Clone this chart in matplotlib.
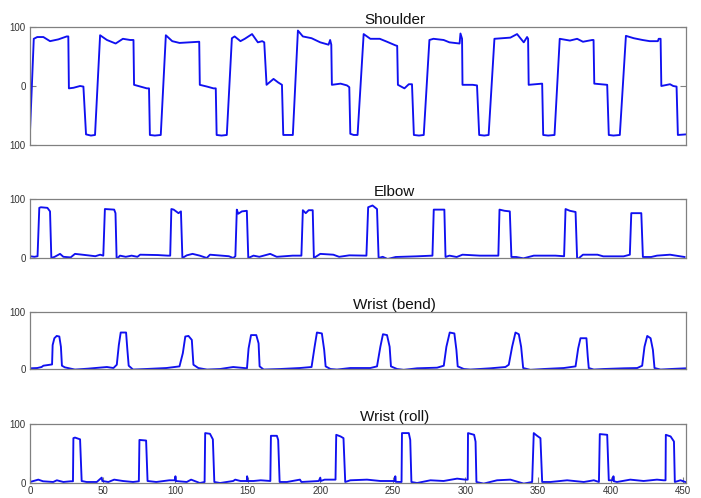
import matplotlib
matplotlib.use("Agg")
import matplotlib.pyplot as plt
import numpy as np

plt.rcParams['font.family'] = ['Liberation Sans', 'DejaVu Sans']

titles = ["Shoulder", "Elbow", "Wrist (bend)", "Wrist (roll)"]

shoulder = [(0,-77),(2.6,80),(5,83),(9.2,83),(13.8,76),(19.5,79),(25.3,84),(26.4,84),(26.8,-4),(30,-3),(34.5,0),(36.8,-1),(38.6,-82),(42,-84),(44.8,-83),
            (48.3,86),(53,78),(59,72),(64,80),(69,78),(71.3,78),(71.7,2),(76,-1),(80.5,-4),(82,-4),(82.6,-83),(86,-84),(90.1,-83),
            (93.6,86),(98,76),(103,73),(110,74),(116,75),(116.6,75),(117,2),(122,-1),(126.4,-4),(128,-4),(128.6,-83),(132,-84),(135.6,-83),
            (139.1,81),(141,84),(145,76),(148,80),(153,88),(157,74),(160,76),(161.4,74),(163,2),(167.8,12),(171,6),(173.6,2),(174.5,-83),(178,-83),(181.1,-83),
            (184.6,94),(188,84),(194,81),(200,74),(205.7,70),(206.8,78),(207.6,70),(208,2),(214,4),(218.4,1),(220,-2),(220.7,-81),(223,-83),(225.7,-83),
            (229.9,88),(234.5,80),(241,80),(246,75),(251.7,69),(253,68),(253.5,2),(258,-4),(261,3),(263.2,3),(264.5,-83),(268,-84),(271.3,-83),
            (275.2,78),(278,80),(285,78),(289,74),(296,72),(296.6,89),(297.7,80),(298,2),(305,2),(308,1),(309.5,-83),(313,-84),(316,-83),
            (320,80),(326,81),(331,82),(335.6,88),(340.2,74),(342.5,83),(343.2,80),(343.6,2),(352.9,4),(353.6,-83),(357,-84),(361.4,-83),
            (365,80),(372,77),(377,80),(381,75),(387.4,78),(388.3,78),(388.8,4),(397.7,2),(398.8,-83),(402,-84),(406.4,-83),
            (410.6,85),(416,81),(422,78),(427,76),(432.6,76),(433.2,80),(434.5,80),(435,0),(441,3),(443.2,0),(445.5,-1),(446.4,-83),(452,-82)]

elbow = [(0,3),(3,2),(5.2,3),(6.4,85),(7.5,86),(12,85),(13.8,79),(14.7,0),(17,2),(20.7,7),(23,2),(28,1),(31,7),(40,4.5),(45,3),(48.3,5.6),(50.5,4),
         (51.6,83),(58,82),(58.9,76),(59.7,-2),(62,4),(66,2),(70,4),(74,2),(75.9,5.6),(88,5),(95,4),(96.6,4),
         (97.4,83),(99,82),(102.3,76),(104,79),(105,0),(108,4.5),(112,7),(117,4),(121.8,0),(124,5.6),(137,3),(140,0),(141.5,3),
         (142.5,82),(143.5,75),(146,79),(149.4,80),(150.4,0),(154,4),(158,2),(165.5,7),(170,2),(181,4),(187,4),
         (188,81),(190,76),(192,81),(194.8,81),(195.6,0),(200,7),(209,5.6),(213,2),(220,4.5),(231.8,4),
         (233,86),(236,89),(239.1,83),(240.2,0),(243,2),(246.4,-1.7),(252,1.7),(266,2.8),(277.3,4),
         (278.2,82),(285.5,82),(286.3,1.7),(289,4),(294,1.7),(298,5.6),(310,4),(322.7,4),
         (323.5,82),(327,80),(330.6,79),(331.7,1.7),(335,1.7),(340,-0.6),(347.1,4),(362,4),(368,3),
         (369,83),(372,80),(375.9,78),(377,-2.8),(381,5.6),(391,5.6),(395,2.8),(409,2.8),(413.3,5.6),
         (414.3,76),(421.2,76),(422.3,1.7),(428,1.7),(432,4),(441,5.6),(451,1.7)]

wrist_bend = [(0,1.2),(5,1.7),(8,3.5),(9.2,5.8),(13.8,7.5),(15.2,8),(15.6,42),(16.8,54),(18.4,58),(20.2,57),(21.3,39),(22,5.8),(24,2.9),(31,-1),(40,0.6),(53,3.5),(57.5,1.7),
              (59.8,7.5),(61.2,42),(62.5,64),(66.2,64),(67.1,33.5),(68,5.8),(71,-1),(80,0),(94,1.7),(103,4.6),
              (105.3,27.7),(107,57),(109.2,58),(111.5,51),(112.6,7.5),(116,1.7),(122,-1),(131,0),(140,3.5),(149.5,1.2),
              (150.6,36),(152.3,59.5),(155.9,59.5),(157.5,45),(158.2,4.6),(161,-1),(172.5,0),(186,1.7),(194,3.5),
              (196.1,39),(197.7,64),(201.1,62.4),(202.7,33.5),(203.7,4.6),(207,0),(211.5,-1),(220.7,1.7),(234.5,1.7),(239.1,4.6),
              (241.4,39),(243.2,61),(246,59.5),(247.8,39),(248.7,4.6),(252.9,0),(257.5,-1.5),(266.7,1.2),(280.5,2.3),(285.1,5.8),
              (286.9,39),(289.2,64),(292.4,62.4),(293.8,33.5),(294.7,4.6),(298.9,0),(303.4,-1),(317.2,1.2),(327.6,3.5),(329.9,7.5),
              (332.2,39),(334.5,64),(336.8,61),(338.4,39),(339.8,1.7),(344.8,-1.5),(354,0),(367.8,1.7),(375.9,4.6),
              (377.7,36),(379.3,54),(383.4,54),(384.3,22),(385,1.7),(388.5,-1),(395.4,0),(409.2,1.2),(418.4,1.7),(421.8,5.8),
              (423.4,39),(425.3,58),(427.6,54),(429.2,33.5),(430.3,1.7),(434.5,-1),(441.4,0),(451.7,1.2)]

wrist_roll = [(0,1.7),(5.7,5.7),(9,2.9),(16,1.7),(18.5,4.6),(23,1.7),(28,2.9),(29.6,2.9),(29.9,76),(31,77),(34.5,74),(35.6,3.4),(39,1.7),(46,1.7),(49.4,9.1),(49.8,3.4),(54,1.7),(58,5.7),(64,3.4),(71,1.7),(75,2.9),
              (75.4,73),(80,72),(81,3.4),(87,1.7),(96,4.6),(100,4.6),(100.2,11.4),(100.5,3.4),(108,1.7),(111,5.7),(117,0),(120.3,1.7),
              (120.7,84.6),(124,83.4),(126,74),(127,1.7),(131,0),(140,3.4),(141.4,5.7),(145,3.4),(149.4,3.4),(149.6,11.4),(149.9,3.4),(154,3.4),(159,4.6),(165.6,3.4),
              (166,80),(170.1,80),(171,73),(172,1.7),(177,1.7),(186,5.7),(187,1.7),(199,3.4),(200,9.1),(200.4,3.4),(203,5.7),(210.5,5.7),
              (211,81.7),(214,78.9),(216,76),(217.2,1.7),(220.7,4.6),(232.2,5.7),(241.4,3.4),(251.5,3.4),(251.7,11.4),(252,2),(256,1.7),
              (256.3,84.6),(261,84.6),(262,73),(262.8,1.7),(266.7,0),(275.9,4.6),(285,3.4),(294.3,7.4),(300,5.7),(301.6,5.7),
              (301.8,84.6),(306,81.7),(307,70),(307.6,1.7),(312.6,-1),(321.8,4.6),(331,5.7),(340.2,-1),(346,1.7),
              (347.1,84.6),(349.4,80),(351.7,76),(352.9,1.7),(358.6,1.7),(370.1,4.6),(381.6,1.7),(388.5,4.6),(392,1.7),
              (392.6,82.9),(397.7,81.7),(398.8,4.6),(401.8,4.6),(402,11.4),(402.3,3),(404.4,1.7),(413.6,5.7),(422.8,3.4),(432,5.7),(436.6,4.6),(437.9,4.6),
              (438.1,81.7),(441.4,78.9),(443.7,70.3),(444.3,1.7),(448.2,4.6),(451.6,1.7)]

series = [shoulder, elbow, wrist_bend, wrist_roll]
ylims = [(-100, 100), (0, 100), (0, 100), (0, 100)]
yticks = [[-100, 0, 100], [0, 100], [0, 100], [0, 100]]
yticklabels = [["100", "0", "100"], ["0", "100"], ["0", "100"], ["0", "100"]]
xticks = [0, 50, 100, 150, 200, 250, 300, 350, 400, 450]

W, H = 701, 498
fig = plt.figure(figsize=(W/100, H/100), dpi=100)

# (top_px, bottom_px)
boxes = [(27, 145), (199, 258), (312, 369), (424, 483)]
left_px, right_px = 30, 686
frame_col = '#808080'

for i, (data, (top, bot)) in enumerate(zip(series, boxes)):
    ax = fig.add_axes([left_px/W, 1 - bot/H, (right_px-left_px)/W, (bot-top)/H])
    t = [p[0] for p in data]
    v = [p[1] for p in data]
    ax.plot(t, v, color='#1010f0', lw=1.35)
    ax.set_xlim(0, 452)
    ax.set_ylim(*ylims[i])
    ax.set_yticks(yticks[i])
    ax.set_yticklabels(yticklabels[i])
    for s in ax.spines.values():
        s.set_color(frame_col)
        s.set_linewidth(0.9)
    ax.tick_params(axis='y', direction='in', length=4, width=0.8, color=frame_col,
                   labelsize=7, labelcolor='#333333', pad=3, right=True)
    if i == 3:
        ax.set_xticks(xticks)
        ax.tick_params(axis='x', direction='in', length=4, width=0.8, color=frame_col,
                       labelsize=7, labelcolor='#333333', pad=2)
    else:
        ax.set_xticks([])
    ax.text(0.556, 1.0, titles[i], transform=ax.transAxes, ha='center', va='bottom',
            fontsize=11, color='#111111')

fig.savefig("out.png", dpi=100)
